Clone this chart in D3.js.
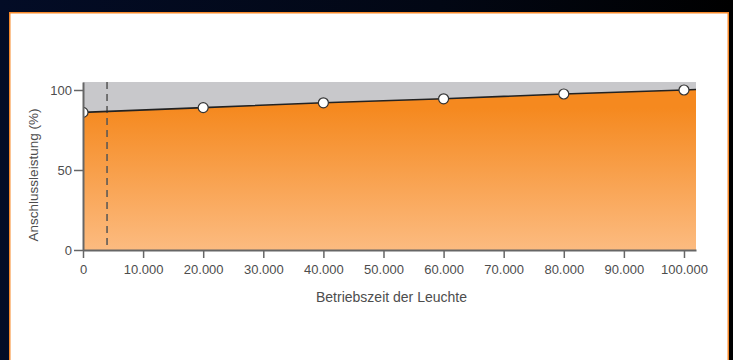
<!DOCTYPE html>
<html>
<head>
<meta charset="utf-8">
<script src="https://cdn.jsdelivr.net/npm/d3@7"></script>
<style>
  body { margin: 0; background: #000; }
  svg { display: block; }
</style>
</head>
<body>
<svg width="733" height="360"></svg>
<script>
// Betriebszeit (h) und Anschlussleistung (%)
var hours = [0, 20000, 40000, 60000, 80000, 100000, 102000];
var power = [86, 89, 92, 94.5, 97.5, 100, 100.3];
var markerCount = 6; // letzter Punkt ist nur Linienende
var xTicks = [0, 10000, 20000, 30000, 40000, 50000, 60000, 70000, 80000, 90000, 100000];
var yTicks = [0, 50, 100];
var dashedAt = 4000;

var svg = d3.select("svg"),
width = +svg.attr("width"),
height = +svg.attr("height");

var de = d3.formatLocale({ decimal: ",", thousands: ".", grouping: [3], currency: ["", "€"] });
var fmt = de.format(",d");

var defs = svg.append("defs");

var bg = defs.append("linearGradient").attr("id", "bg")
.attr("x1", 0).attr("x2", 1).attr("y1", 0).attr("y2", 0);
bg.append("stop").attr("offset", "0%").attr("stop-color", "#030c26");
bg.append("stop").attr("offset", "60%").attr("stop-color", "#020714");
bg.append("stop").attr("offset", "100%").attr("stop-color", "#000000");

var og = defs.append("linearGradient").attr("id", "orange")
.attr("gradientUnits", "userSpaceOnUse")
.attr("x1", 0).attr("x2", 0).attr("y1", 108).attr("y2", 250);
og.append("stop").attr("offset", "0%").attr("stop-color", "#f5891f");
og.append("stop").attr("offset", "100%").attr("stop-color", "#fcbb80");

svg.append("rect").attr("width", width).attr("height", height).attr("fill", "url(#bg)");

// weisses Panel mit orangem Rand
svg.append("rect")
.attr("x", 9.75).attr("y", 12.75).attr("width", 718.5).attr("height", 360)
.attr("fill", "#fff").attr("stroke", "#f7892a").attr("stroke-width", 1.5);

var pLeft = 83, pTop = 82, pRight = 696, pBottom = 250;

var x = d3.scaleLinear().domain([0, 102000]).range([pLeft, pRight]);
var y = d3.scaleLinear().domain([0, 105]).range([pBottom, pTop]);

defs.append("clipPath").attr("id", "plot")
.append("rect").attr("x", pLeft).attr("y", pTop).attr("width", pRight - pLeft).attr("height", pBottom - pTop);

var g = svg.append("g").attr("clip-path", "url(#plot)");

g.append("rect")
.attr("x", pLeft).attr("y", pTop).attr("width", pRight - pLeft).attr("height", pBottom - pTop)
.attr("fill", "#c8c8cb");

var pts = hours.map(function(h, i) { return { h: h, v: power[i] }; });

var area = d3.area()
.x(function(d) { return x(d.h); })
.y0(y(0))
.y1(function(d) { return y(d.v); });

g.append("path").datum(pts).attr("d", area).attr("fill", "url(#orange)");

g.append("line")
.attr("x1", x(dashedAt)).attr("x2", x(dashedAt))
.attr("y1", pTop).attr("y2", pBottom)
.attr("stroke", "#555").attr("stroke-width", 1.5)
.attr("stroke-dasharray", "7,5");

var line = d3.line()
.x(function(d) { return x(d.h); })
.y(function(d) { return y(d.v); });

g.append("path").datum(pts).attr("d", line)
.attr("fill", "none").attr("stroke", "#222").attr("stroke-width", 1.6);

g.selectAll("circle")
.data(pts.slice(0, markerCount))
.enter().append("circle")
.attr("cx", function(d) { return x(d.h); })
.attr("cy", function(d) { return y(d.v); })
.attr("r", 5)
.attr("fill", "#fff").attr("stroke", "#333").attr("stroke-width", 1.2);

// Achsen
var xAxis = svg.append("g").attr("transform", "translate(0," + pBottom + ")")
.call(d3.axisBottom(x).tickValues(xTicks).tickFormat(fmt).tickSize(8).tickPadding(7).tickSizeOuter(0));

var yAxis = svg.append("g").attr("transform", "translate(" + pLeft + ",0)")
.call(d3.axisLeft(y).tickValues(yTicks).tickSize(9).tickPadding(2).tickSizeOuter(0));

[xAxis, yAxis].forEach(function(a) {
	a.select(".domain").attr("stroke", "#666").attr("stroke-width", 2);
	a.selectAll(".tick line").attr("stroke", "#666").attr("stroke-width", 1.5);
	a.selectAll("text").attr("fill", "#4d4d4d")
	.style("font-family", "'Liberation Sans', Arial, sans-serif").style("font-size", "13px");
});

svg.append("text")
.attr("x", (pLeft + pRight) / 2 + 2).attr("y", 302)
.attr("text-anchor", "middle")
.attr("fill", "#4d4d4d")
.style("font-family", "'Liberation Sans', Arial, sans-serif").style("font-size", "14px")
.text("Betriebszeit der Leuchte");

svg.append("text")
.attr("transform", "translate(38," + 175 + ") rotate(-90)")
.attr("text-anchor", "middle")
.attr("fill", "#4d4d4d")
.style("font-family", "'Liberation Sans', Arial, sans-serif").style("font-size", "13.5px")
.text("Anschlussleistung (%)");
</script>
</body>
</html>
